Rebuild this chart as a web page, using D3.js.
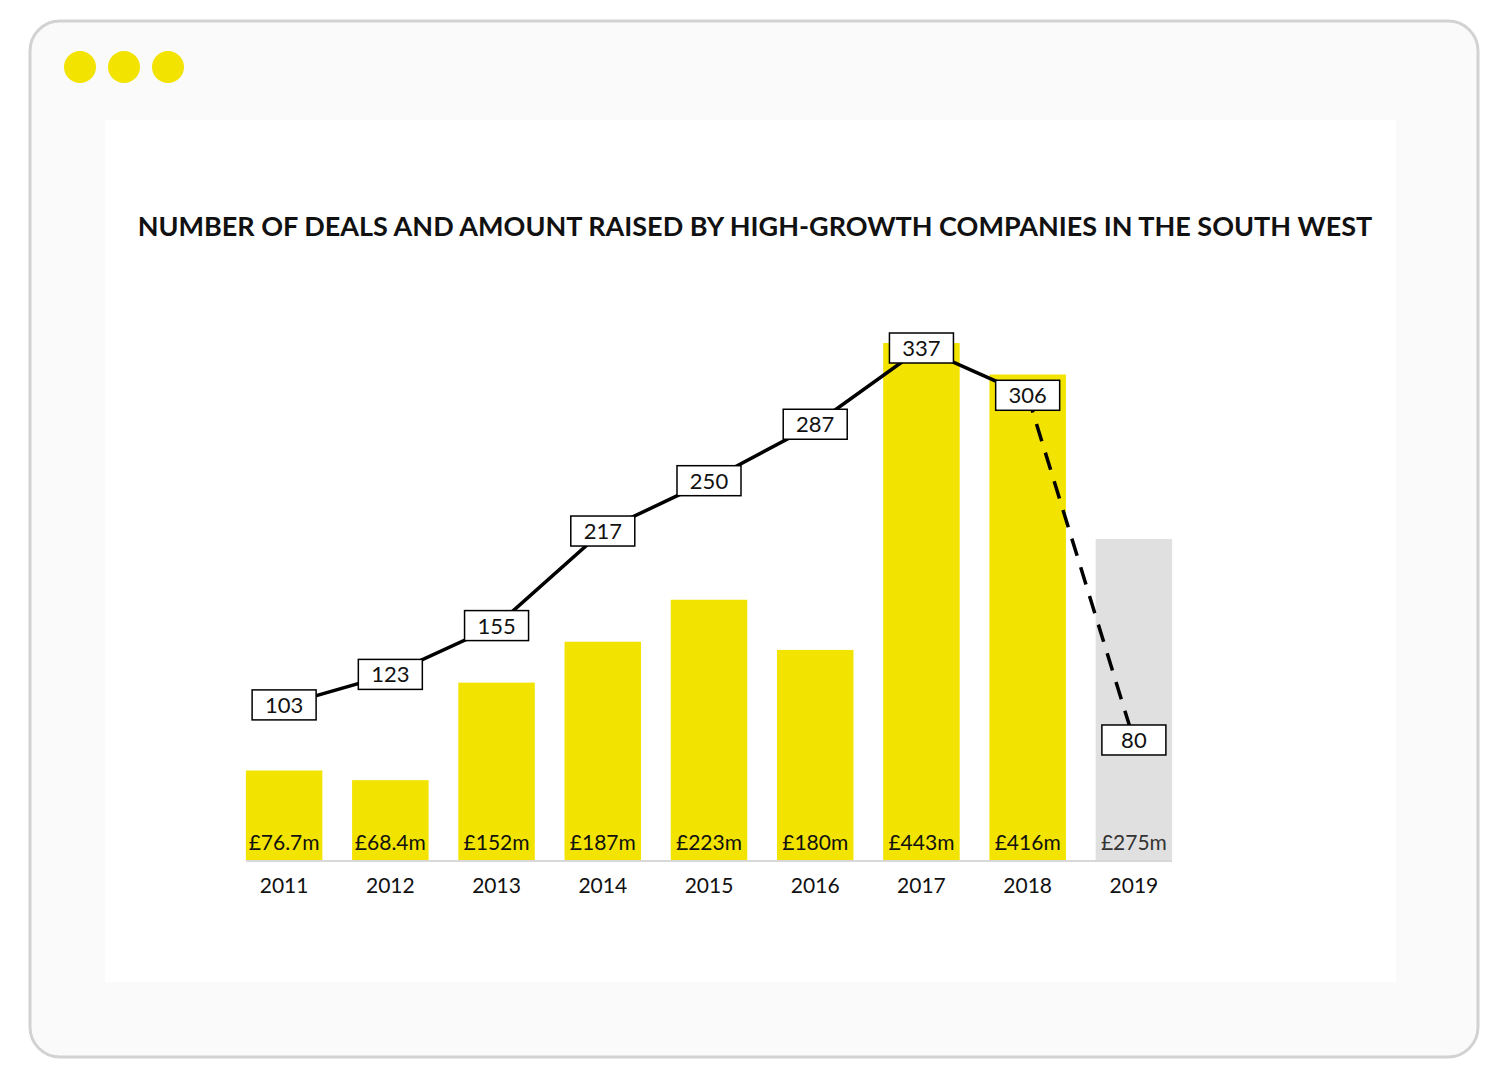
<!DOCTYPE html>
<html><head><meta charset="utf-8">
<script src="https://cdn.jsdelivr.net/npm/d3@7"></script>
<style>body{margin:0;background:#fff}</style></head>
<body><svg id="chart"></svg>
<script>
const years = ['2011','2012','2013','2014','2015','2016','2017','2018','2019'];
const amounts = [76.7, 68.4, 152, 187, 223, 180, 443, 416, 275];
const amountLabels = ['£76.7m','£68.4m','£152m','£187m','£223m','£180m','£443m','£416m','£275m'];
const deals = [103, 123, 155, 217, 250, 287, 337, 306, 80];

const W = 1500, H = 1079;
const svg = d3.select('#chart').attr('width', W).attr('height', H)
  .style('font-family', 'Lato, "Noto Sans", sans-serif');

svg.append('rect').attr('x', 30).attr('y', 21).attr('width', 1448).attr('height', 1036)
  .attr('rx', 30).attr('fill', '#fafafa').attr('stroke', '#d2d2d2').attr('stroke-width', 3);
svg.append('rect').attr('x', 105).attr('y', 120).attr('width', 1291).attr('height', 862).attr('fill', '#fff');
[80, 124, 168].forEach(cx => svg.append('circle').attr('cx', cx).attr('cy', 67).attr('r', 16).attr('fill', '#f2e300'));

svg.append('text').attr('x', 755).attr('y', 236).attr('text-anchor', 'middle')
  .attr('font-size', 27).attr('font-weight', 700).attr('fill', '#111')
  .text('NUMBER OF DEALS AND AMOUNT RAISED BY HIGH-GROWTH COMPANIES IN THE SOUTH WEST');

const base = 860;
const x = d3.scaleBand().domain(years).range([231, 1187]).paddingInner(0.28).paddingOuter(0.14);
const yA = d3.scaleLinear().domain([0, 443]).range([base, 343]);
const yD = d3.scaleLinear().domain([0, 337]).range([862, 348]);

svg.selectAll('.bar').data(years).enter().append('rect')
  .attr('x', d => x(d)).attr('width', x.bandwidth())
  .attr('y', (d, i) => yA(amounts[i])).attr('height', (d, i) => base - yA(amounts[i]))
  .attr('fill', (d, i) => i === 8 ? '#e0e0e0' : '#f2e300');

svg.append('line').attr('x1', x('2011')).attr('x2', x('2019') + x.bandwidth())
  .attr('y1', base + 1).attr('y2', base + 1).attr('stroke', '#d8d8d8').attr('stroke-width', 2);

const cx = d => x(d) + x.bandwidth() / 2;
svg.selectAll('.amt').data(years).enter().append('text')
  .attr('x', cx).attr('y', base - 10).attr('text-anchor', 'middle')
  .attr('font-size', 21).attr('fill', (d, i) => i === 8 ? '#333' : '#111')
  .text((d, i) => amountLabels[i]);

svg.selectAll('.yr').data(years).enter().append('text')
  .attr('x', cx).attr('y', 893).attr('text-anchor', 'middle')
  .attr('font-size', 21).attr('fill', '#111').text(d => d);

const pts = years.map((d, i) => [cx(d), yD(deals[i])]);
const line = d3.line();
svg.append('path').attr('d', line(pts.slice(0, 8))).attr('fill', 'none')
  .attr('stroke', '#000').attr('stroke-width', 3.5);
svg.append('path').attr('d', line(pts.slice(7))).attr('fill', 'none')
  .attr('stroke', '#000').attr('stroke-width', 3.5).attr('stroke-dasharray', '18,12');

const g = svg.selectAll('.lbl').data(years).enter().append('g')
  .attr('transform', (d, i) => `translate(${pts[i][0]},${pts[i][1]})`);
g.append('rect').attr('x', -32).attr('y', -15).attr('width', 64).attr('height', 30)
  .attr('fill', '#fff').attr('stroke', '#000').attr('stroke-width', 1.5);
g.append('text').attr('y', 8).attr('text-anchor', 'middle').attr('font-size', 22)
  .attr('fill', '#111').text((d, i) => deals[i]);
</script></body></html>
